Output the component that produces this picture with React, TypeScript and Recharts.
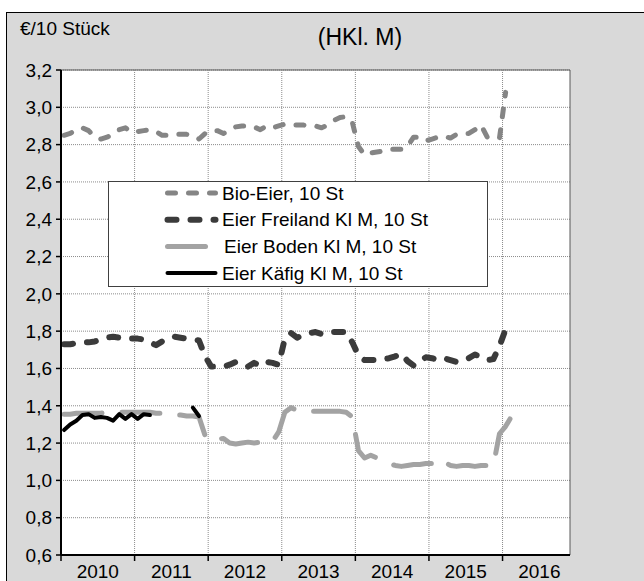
import {
  LineChart,
  Line,
  XAxis,
  YAxis,
  CartesianGrid,
  ReferenceLine,
  ReferenceArea,
  Legend,
} from "recharts";

// Monatswerte ab Jan 2010, Achse läuft bis Nov 2016
const years = ["2010", "2011", "2012", "2013", "2014", "2015", "2016"];
const AXIS_MONTHS = 83;
const yTicks = [0.6, 0.8, 1.0, 1.2, 1.4, 1.6, 1.8, 2.0, 2.2, 2.4, 2.6, 2.8, 3.0, 3.2];

const bio = [
  2.85, 2.86, 2.88, 2.89, 2.875, 2.84, 2.83, 2.84, 2.855, 2.88, 2.89, 2.865,
  2.87, 2.875, 2.88, 2.87, 2.85, 2.85, 2.855, 2.855, 2.855, 2.85, 2.83, 2.86,
  2.875, 2.875, 2.86, 2.875, 2.895, 2.9, 2.9, 2.895, 2.88, 2.9, 2.89, 2.9,
  2.91, 2.905, 2.905, 2.905, 2.9, 2.9, 2.89, 2.905, 2.93, 2.945, 2.95, 2.92,
  2.79, 2.745, 2.755, 2.76, 2.765, 2.775, 2.775, 2.775, 2.79, 2.84, 2.84, 2.82,
  2.83, 2.84, 2.845, 2.835, 2.855, 2.86, 2.86, 2.88, 2.905, 2.84, 2.835, 2.835,
  3.08,
];

const freiland = [
  1.73, 1.73, 1.735, 1.74, 1.74, 1.745, 1.755, 1.765, 1.77, 1.765, 1.76, 1.76,
  1.76, 1.755, 1.74, 1.725, 1.745, 1.76, 1.77, 1.765, 1.76, 1.755, 1.75, 1.665,
  1.61, 1.61, 1.61, 1.62, 1.635, 1.625, 1.61, 1.63, 1.615, 1.635, 1.63, 1.62,
  1.76, 1.79, 1.765, 1.78, 1.79, 1.795, 1.785, 1.795, 1.795, 1.795, 1.795, 1.74,
  1.67, 1.645, 1.645, 1.645, 1.65, 1.655, 1.665, 1.68, 1.64, 1.615, 1.635, 1.66,
  1.655, 1.645, 1.655, 1.645, 1.635, 1.64, 1.655, 1.675, 1.66, 1.645, 1.65, 1.72,
  1.81, 1.83,
];

const boden = [
  1.355, 1.355, 1.36, 1.36, 1.36, 1.36, 1.36, 1.365, 1.365, 1.365, 1.365, 1.365,
  1.365, 1.365, 1.365, 1.36, 1.36, 1.355, 1.35, 1.35, 1.345, 1.345, 1.34, 1.24,
  1.21, 1.22, 1.225, 1.2, 1.195, 1.2, 1.205, 1.2, 1.205, 1.2, 1.21, 1.26,
  1.365, 1.39, 1.375, 1.37, 1.37, 1.37, 1.37, 1.37, 1.37, 1.37, 1.365, 1.34,
  1.16, 1.12, 1.135, 1.12, 1.1, 1.09, 1.08, 1.075, 1.08, 1.085, 1.085, 1.09,
  1.09, 1.115, 1.1, 1.08, 1.075, 1.08, 1.08, 1.075, 1.08, 1.08, 1.08, 1.25,
  1.29, 1.345,
];

const kaefig = [
  1.27, 1.3, 1.32, 1.35, 1.355, 1.335, 1.34, 1.335, 1.32, 1.355, 1.33, 1.355,
  1.33, 1.355, 1.35, null, null, null, null, null, null, 1.39, 1.345,
];

const series = [
  { key: "bio", name: "Bio-Eier, 10 St", color: "#858585", width: 5, dash: "8 13" },
  { key: "freiland", name: "Eier Freiland Kl M, 10 St", color: "#3b3b3b", width: 6, dash: "9 14" },
  { key: "boden", name: "Eier Boden Kl M, 10 St", color: "#a3a3a3", width: 5, dash: "38 20" },
  { key: "kaefig", name: "Eier Käfig Kl M, 10 St", color: "#000000", width: 4, dash: undefined },
];

const data = freiland.map((_, i) => ({
  month: `${years[Math.floor(i / 12)]}-${String((i % 12) + 1).padStart(2, "0")}`,
  x: i + 0.5,
  bio: bio[i] ?? null,
  freiland: freiland[i] ?? null,
  boden: boden[i] ?? null,
  kaefig: kaefig[i] ?? null,
}));

// Jahresgrenzen bekommen Tickstriche, Jahresmitten die Beschriftung
const xTicks = years.flatMap((_, i) => [i * 12, i * 12 + 6]);

const TICK_SIZE = 6;
const TICK_MARGIN = 4;
const FONT = '"Liberation Sans", Arial, sans-serif';

function YearTick(props: any) {
  const { x, y, payload } = props;
  const v = payload.value;
  if (v % 12 === 0) {
    return (
      <line
        x1={x}
        x2={x}
        y1={y - TICK_MARGIN - TICK_SIZE}
        y2={y - TICK_MARGIN}
        stroke="#000"
        strokeWidth={1.5}
      />
    );
  }
  return (
    <text x={x} y={y} dy="0.71em" textAnchor="middle" fontSize={19} fill="#000">
      {years[(v - 6) / 12]}
    </text>
  );
}

function LegendBox() {
  return (
    <div
      style={{
        width: 380,
        height: 106,
        boxSizing: "border-box",
        background: "#fff",
        border: "1px solid #404040",
      }}
    >
      <svg width={378} height={104} style={{ display: "block" }}>
        {series.map((s, i) => (
          <g key={s.key}>
            <line
              x1={58.5}
              x2={106.5}
              y1={11 + i * 26.7}
              y2={11 + i * 26.7}
              stroke={s.color}
              strokeWidth={s.width}
              strokeDasharray={s.dash}
              strokeLinecap="round"
            />
            <text x={s.key === "boden" ? 115 : 113} y={17.7 + i * 26.7} fontSize={19} fill="#000">
              {s.name}
            </text>
          </g>
        ))}
      </svg>
    </div>
  );
}

const fmt = (v: number) => v.toFixed(1).replace(".", ",");

export default function App() {
  return (
    <div
      style={{
        position: "absolute",
        left: 0,
        top: 0,
        width: 644,
        height: 581,
        overflow: "hidden",
        background: "#fff",
        fontFamily: FONT,
      }}
    >
      <div
        style={{
          position: "absolute",
          left: 6,
          top: 12,
          width: 700,
          height: 700,
          background: "#d9d9d9",
          borderLeft: "1px solid #000",
          borderTop: "1px solid #000",
        }}
      />
      <svg width={644} height={60} style={{ position: "absolute", left: 0, top: 0 }}>
        <text x={20} y={35} fontSize={19} fill="#000">
          €/10 Stück
        </text>
        <text x={360} y={45} fontSize={23} fill="#000" textAnchor="middle">
          (HKl. M)
        </text>
      </svg>
      <div style={{ position: "absolute", left: 0, top: 0 }}>
        <LineChart
          width={644}
          height={590}
          data={data}
          margin={{ top: 70, right: 74, bottom: 9, left: 11 }}
        >
          <CartesianGrid vertical={false} stroke="#8c8c8c" strokeDasharray="1 1" fill="#ffffff" />
          {years.slice(1).map((y, i) => (
            <ReferenceLine key={y} x={(i + 1) * 12} stroke="#8c8c8c" strokeDasharray="1 1" />
          ))}
          <ReferenceArea
            x1={0}
            x2={AXIS_MONTHS}
            y1={0.6}
            y2={3.2}
            fill="none"
            stroke="#595959"
            strokeWidth={1}
          />
          <XAxis
            type="number"
            dataKey="x"
            domain={[0, AXIS_MONTHS]}
            ticks={xTicks}
            interval={0}
            tick={(p: any) => <YearTick {...p} />}
            tickLine={false}
            tickSize={TICK_SIZE}
            tickMargin={TICK_MARGIN}
            axisLine={{ stroke: "#000", strokeWidth: 2 }}
            height={26}
          />
          <YAxis
            type="number"
            domain={[0.6, 3.2]}
            ticks={yTicks}
            interval={0}
            width={50}
            tickSize={5}
            tickMargin={4}
            tickFormatter={fmt}
            tick={{ fill: "#000", fontSize: 19 }}
            axisLine={{ stroke: "#000", strokeWidth: 2 }}
            tickLine={{ stroke: "#000", strokeWidth: 1.5 }}
          />
          <Legend
            layout="vertical"
            align="center"
            verticalAlign="middle"
            content={() => <LegendBox />}
            wrapperStyle={{ left: 108, top: 181, width: 380, height: 106 }}
          />
          {series.map((s) => (
            <Line
              key={s.key}
              type="linear"
              dataKey={s.key}
              name={s.name}
              stroke={s.color}
              strokeWidth={s.width}
              strokeDasharray={s.dash}
              strokeLinecap="round"
              strokeLinejoin="round"
              dot={false}
              activeDot={false}
              connectNulls={false}
              isAnimationActive={false}
            />
          ))}
        </LineChart>
      </div>
    </div>
  );
}
